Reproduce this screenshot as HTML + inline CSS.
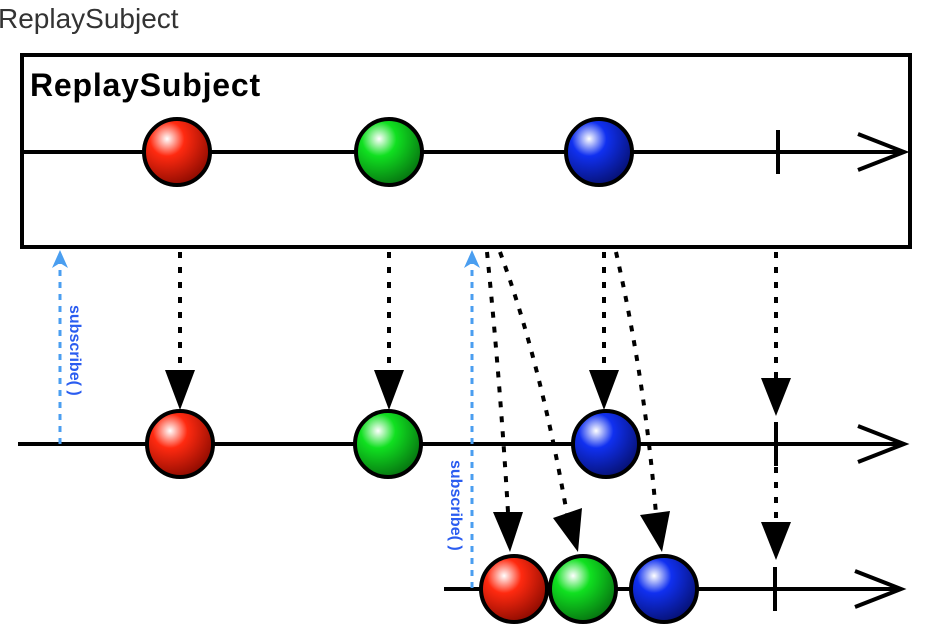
<!DOCTYPE html>
<html><head><meta charset="utf-8"><style>
html,body{margin:0;padding:0;background:#fff;width:928px;height:636px;overflow:hidden}
</style></head><body>
<svg width="928" height="636" viewBox="0 0 928 636" xmlns="http://www.w3.org/2000/svg">
<defs>
<radialGradient id="gr" cx="0.35" cy="0.3" r="0.75"><stop offset="0" stop-color="#fff"/><stop offset="0.35" stop-color="#ff2a10"/><stop offset="1" stop-color="#8a0a00"/></radialGradient>
<radialGradient id="gg" cx="0.35" cy="0.3" r="0.75"><stop offset="0" stop-color="#fff"/><stop offset="0.35" stop-color="#10e020"/><stop offset="1" stop-color="#067010"/></radialGradient>
<radialGradient id="gb" cx="0.35" cy="0.3" r="0.75"><stop offset="0" stop-color="#fff"/><stop offset="0.35" stop-color="#1030f0"/><stop offset="1" stop-color="#061070"/></radialGradient>
</defs>
<text x="-2" y="28" font-family="Liberation Sans, sans-serif" font-size="28" fill="#333">ReplaySubject</text>
<rect x="22" y="55" width="888" height="192" fill="#fff" stroke="#000" stroke-width="4"/>
<text x="30" y="96" font-family="Liberation Sans, sans-serif" font-size="32" font-weight="bold" letter-spacing="0.8">ReplaySubject</text>
<g stroke="#000" stroke-width="4" fill="none">
<line x1="22" y1="152" x2="903" y2="152"/><path d="M858 134L904 152L858 170"/>
<line x1="778" y1="130" x2="778" y2="174"/>
<line x1="18" y1="444" x2="903" y2="444"/><path d="M858 426L904 444L858 462"/>
<line x1="776" y1="422" x2="776" y2="466"/>
<line x1="444" y1="589" x2="900" y2="589"/><path d="M855 571L901 589L855 607"/>
<line x1="775" y1="567" x2="775" y2="611"/>
</g>
<g stroke="#000" stroke-width="4" stroke-dasharray="6 9" fill="none">
<line x1="180" y1="252" x2="180" y2="372"/>
<line x1="389" y1="252" x2="389" y2="372"/>
<line x1="604" y1="252" x2="604" y2="372"/>
<line x1="776" y1="252" x2="776" y2="378"/>
<line x1="776" y1="452" x2="776" y2="522"/>
<path d="M487 252Q500 380 508 512"/>
<path d="M500 252Q540 360 567 514"/>
<path d="M616 252Q645 380 656 514"/>
</g>
<g fill="#000">
<path d="M165 370L195 370L180 410z"/>
<path d="M374 370L404 370L389 410z"/>
<path d="M589 370L619 370L604 410z"/>
<path d="M761 378L791 378L776 416z"/>
<path d="M761 522L791 522L776 560z"/>
<path d="M493 512L523 512L510 552z"/>
<path d="M553 518L582 508L578 552z"/>
<path d="M640 515L670 511L662 552z"/>
</g>
<g stroke="#4a9ef0" stroke-width="3" stroke-dasharray="6 6" fill="none">
<line x1="60" y1="444" x2="60" y2="262"/>
<line x1="472" y1="588" x2="472" y2="262"/>
</g>
<g fill="#4a9ef0"><path d="M52 268L60 250L68 268L60 263z"/><path d="M464 268L472 250L480 268L472 263z"/></g>
<g font-family="Liberation Sans, sans-serif" font-size="16" font-weight="bold" fill="#2a5cf0">
<text transform="translate(70,305) rotate(90)">subscribe( )</text>
<text transform="translate(451,460) rotate(90)">subscribe( )</text>
</g>
<g stroke="#000" stroke-width="4">
<circle cx="177" cy="152" r="33" fill="url(#gr)"/>
<circle cx="389" cy="152" r="33" fill="url(#gg)"/>
<circle cx="599" cy="152" r="33" fill="url(#gb)"/>
<circle cx="180" cy="444" r="33" fill="url(#gr)"/>
<circle cx="388" cy="444" r="33" fill="url(#gg)"/>
<circle cx="606" cy="444" r="33" fill="url(#gb)"/>
<circle cx="514" cy="589" r="33" fill="url(#gr)"/>
<circle cx="583" cy="589" r="33" fill="url(#gg)"/>
<circle cx="664" cy="589" r="33" fill="url(#gb)"/>
</g>
</svg>
</body></html>
